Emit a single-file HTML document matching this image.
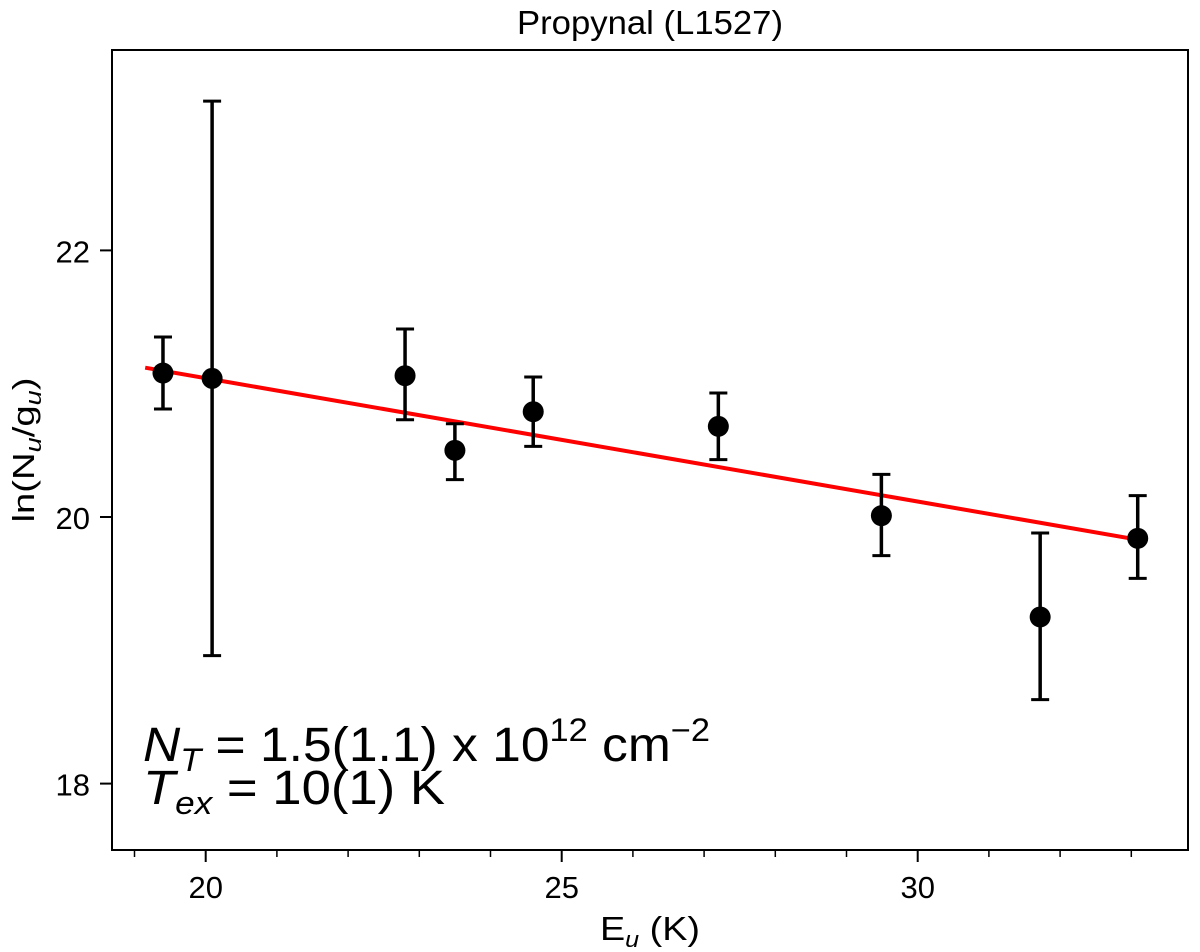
<!DOCTYPE html>
<html><head><meta charset="utf-8"><style>
html,body{margin:0;padding:0;background:#fff;}
svg{display:block;font-family:"Liberation Sans",sans-serif;}
</style></head><body>
<svg id="chart" width="1200" height="952" viewBox="0 0 1200 952">
<text x="650" y="34" font-size="33" text-anchor="middle" textLength="266" lengthAdjust="spacingAndGlyphs">Propynal (L1527)</text>
<rect x="112" y="50" width="1076" height="800" fill="none" stroke="#000" stroke-width="2"/>
<g id="xticks"></g>
<g id="yticks"></g>
<g id="fit"></g>
<g id="points"></g>
<text x="650" y="940" font-size="33" text-anchor="middle" textLength="100" lengthAdjust="spacingAndGlyphs">E<tspan font-style="italic" font-size="22" dy="7">u</tspan><tspan dy="-7"> (K)</tspan></text>
<text transform="translate(34,450) rotate(-90)" font-size="31" text-anchor="middle" textLength="145" lengthAdjust="spacingAndGlyphs">ln(N<tspan font-style="italic" font-size="22" dy="7">u</tspan><tspan dy="-7">/g</tspan><tspan font-style="italic" font-size="22" dy="7">u</tspan><tspan dy="-7">)</tspan></text>
<text x="143" y="761" font-size="48" textLength="567" lengthAdjust="spacingAndGlyphs"><tspan font-style="italic">N</tspan><tspan font-style="italic" font-size="32" dy="10">T</tspan><tspan dy="-10"> = 1.5(1.1) x 10</tspan><tspan font-size="32" dy="-20">12</tspan><tspan dy="20"> cm</tspan><tspan font-size="32" dy="-20">−2</tspan></text>
<text x="143" y="804" font-size="48" textLength="302" lengthAdjust="spacingAndGlyphs"><tspan font-style="italic">T</tspan><tspan font-style="italic" font-size="32" dy="10">ex</tspan><tspan dy="-10"> = 10(1) K</tspan></text>
</svg>
<script>
const eu = [19.40, 20.09, 22.80, 23.50, 24.60, 27.20, 29.49, 31.72, 33.09];
const lnN = [21.08, 21.04, 21.06, 20.50, 20.79, 20.68, 20.01, 19.25, 19.84];
const errHi = [21.35, 23.12, 21.41, 20.70, 21.05, 20.93, 20.32, 19.88, 20.16];
const errLo = [20.81, 18.96, 20.73, 20.28, 20.53, 20.43, 19.71, 18.63, 19.54];
const fitX = [19.15, 33.09];
const fitY = [21.12, 19.83];
const xMajor = [20, 25, 30];
const xMinor = [19, 21, 22, 23, 24, 26, 27, 28, 29, 31, 32, 33];
const yMajor = [18, 20, 22];

const NS = "http://www.w3.org/2000/svg";
function X(v){ return 205.7 + (v - 20) * 71.2; }
function Y(v){ return 517 - (v - 20) * 133.3; }
function mk(tag, attrs, parent){
  const e = document.createElementNS(NS, tag);
  for (const k in attrs) e.setAttribute(k, attrs[k]);
  parent.appendChild(e);
  return e;
}
const xt = document.getElementById('xticks');
xMajor.forEach(v => {
  const l = mk('line', {x1:X(v), x2:X(v), y1:850, y2:862, stroke:'#000', 'stroke-width':2}, xt);
  
  
  const t = mk('text', {x:X(v), y:898, 'font-size':31, 'text-anchor':'middle'}, xt);
  t.textContent = v;
  
  
});
xMinor.forEach(v => {
  const l = mk('line', {x1:X(v), x2:X(v), y1:850, y2:857, stroke:'#000', 'stroke-width':1.5}, xt);
  
  
});
const yt = document.getElementById('yticks');
yMajor.forEach(v => {
  const l = mk('line', {x1:100, x2:112, y1:Y(v), y2:Y(v), stroke:'#000', 'stroke-width':2}, yt);
  
  
  const t = mk('text', {x:90, y:Y(v) + 12, 'font-size':31, 'text-anchor':'end'}, yt);
  t.textContent = v;
  
  
});
const fit = document.getElementById('fit');
const fl = mk('line', {x1:X(fitX[0]), y1:Y(fitY[0]), x2:X(fitX[1]), y2:Y(fitY[1]), stroke:'#ff0000', 'stroke-width':4}, fit);


const pts = document.getElementById('points');
eu.forEach((e, i) => {
  const g = mk('g', {}, pts);
  
  
  const x = X(e);
  const b = mk('line', {x1:x, x2:x, y1:Y(errHi[i]), y2:Y(errLo[i]), stroke:'#000', 'stroke-width':3.5}, g);
  
  
  [errHi[i], errLo[i]].forEach(v => {
    const c = mk('line', {x1:x - 9, x2:x + 9, y1:Y(v), y2:Y(v), stroke:'#000', 'stroke-width':3}, g);
    
    
  });
  const d = mk('circle', {cx:x, cy:Y(lnN[i]), r:10.5, fill:'#000'}, g);
  
  
});
</script>
</body></html>
